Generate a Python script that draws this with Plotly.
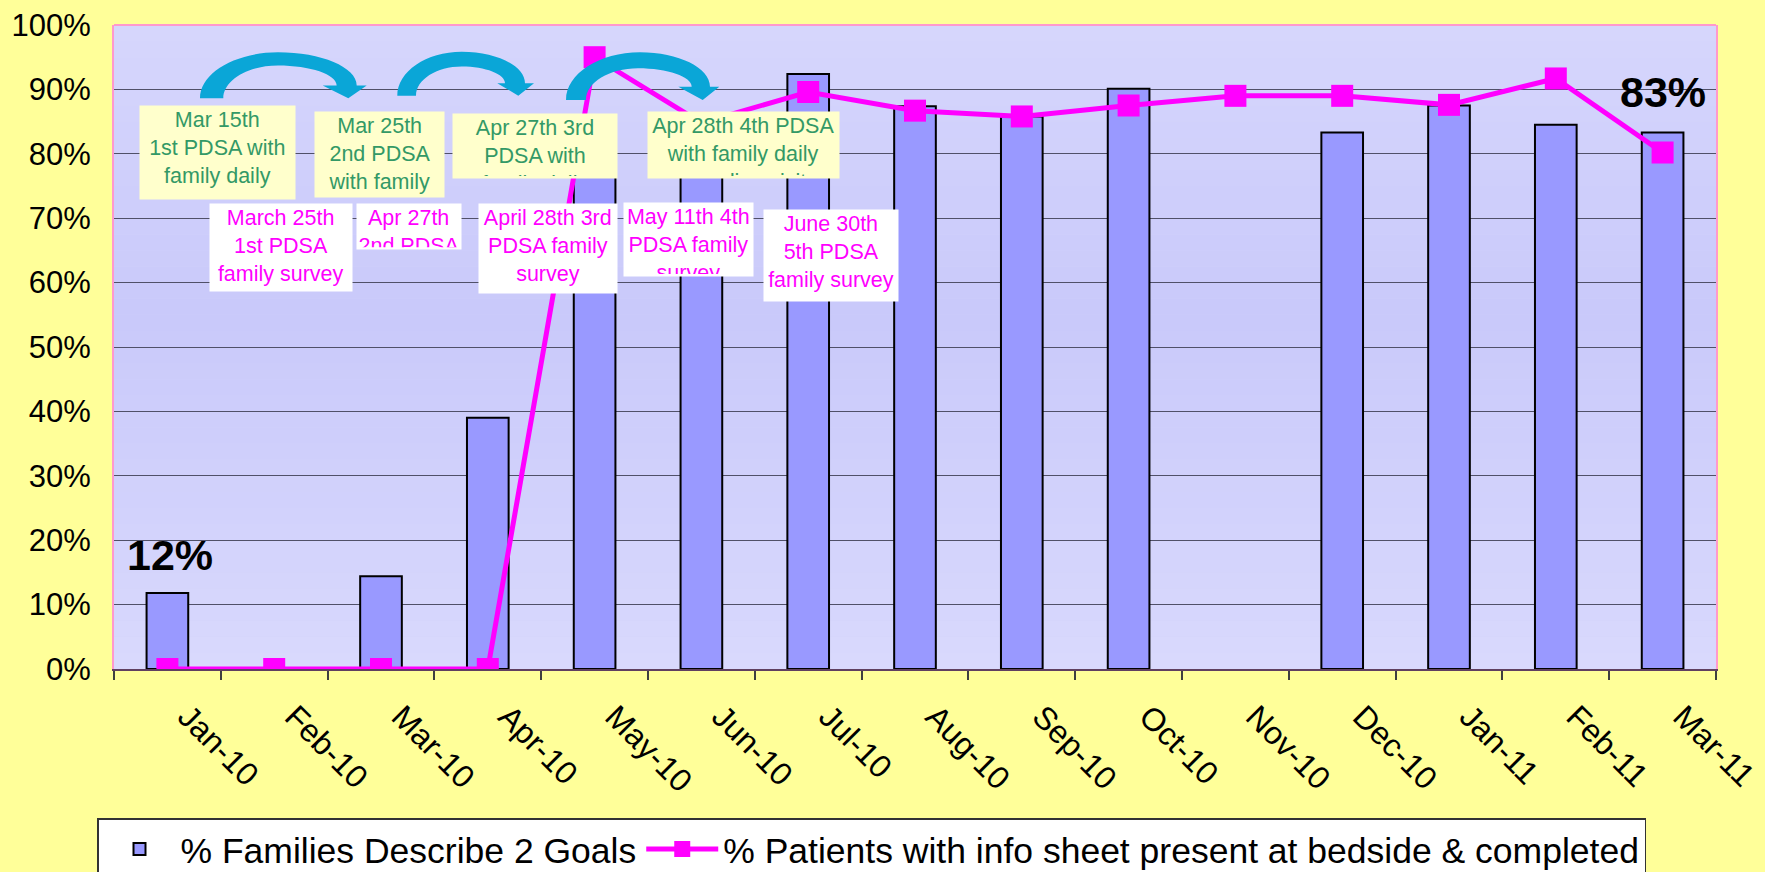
import plotly.graph_objects as go

# ---------------- data ----------------
months = ["Jan-10", "Feb-10", "Mar-10", "Apr-10", "May-10", "Jun-10", "Jul-10", "Aug-10",
          "Sep-10", "Oct-10", "Nov-10", "Dec-10", "Jan-11", "Feb-11", "Mar-11"]
families_pct = [11.8, None, 14.4, 39.0, 83.4, 84.0, 92.4, 87.4, 85.8, 90.1, None, 83.3, 87.5, 84.5, 83.3]
patients_pct = [0, 0, 0, 0, 95.0, 84.8, 89.6, 86.7, 85.8, 87.5, 89.0, 89.0, 87.6, 91.7, 80.2]
series_names = ["% Families Describe 2 Goals",
                "% Patients with info sheet present at bedside & completed"]
callout_labels = [("Jan-10", "12%"), ("Mar-11", "83%")]

green_notes = ["Mar 15th<br>1st PDSA with<br>family daily",
               "Mar 25th<br>2nd PDSA<br>with family",
               "Apr 27th 3rd<br>PDSA with<br>family daily",
               "Apr 28th 4th PDSA<br>with family daily<br>rounding visit"]
pink_notes = ["March 25th<br>1st PDSA<br>family survey",
              "Apr 27th<br>2nd PDSA<br>family survey",
              "April 28th 3rd<br>PDSA family<br>survey",
              "May 11th 4th<br>PDSA family<br>survey",
              "June 30th<br>5th PDSA<br>family survey"]

# ---------------- geometry helpers (layout decoration only) ----------------
W, H = 1765, 872
PL, PR, PT, PB = 114, 1716, 25, 669


def px2x(px):
    return (px - PL) / (PR - PL)


def px2y(py):
    return (PB - py) / (PB - PT)


fig = go.Figure()
fig.add_bar(x=months, y=families_pct, name=series_names[0], width=0.39,
            marker=dict(color="#9999FF", line=dict(color="black", width=2)))
fig.add_scatter(x=months, y=patients_pct, name=series_names[1], mode="lines+markers",
                line=dict(color="#FF00FF", width=5),
                marker=dict(symbol="square", size=22, color="#FF00FF"))

shapes = []
# subtle vertical gradient of the plot area
N = 40
top_c = (217, 217, 253)
mid_c = (201, 201, 250)
for i in range(N):
    t = (i + 0.5) / N
    d = max(0.0, 1 - abs(t - 0.55) / 0.55)
    c = tuple(round(top_c[k] + (mid_c[k] - top_c[k]) * d) for k in range(3))
    shapes.append(dict(type="rect", xref="paper", yref="paper", x0=0, x1=1,
                       y0=i / N, y1=(i + 1) / N, line=dict(width=0),
                       fillcolor="rgb(%d,%d,%d)" % c, layer="below"))
# pink top border
shapes.append(dict(type="line", xref="paper", yref="paper", x0=0, x1=1, y0=1, y1=1,
                   line=dict(color="#FF99CC", width=2), layer="above"))

# curved arrows
arrows = [
    dict(xo=200, xi=223.3, yb=98.3, xt=278, yto=52.3, xti=278, yti=65.5,
         xro=356.7, xri=336.7, yr=85.5, hl=322.7, hr=366.7, tx=348.3, ty=98.3),
    dict(xo=397.3, xi=416, yb=95.7, xt=461.7, yto=51.7, xti=461.7, yti=66.5,
         xro=525, xri=505, yr=83.3, hl=497.3, hr=534, tx=518.3, ty=95.7),
    dict(xo=566, xi=586, yb=100, xt=640, yto=52.3, xti=638, yti=68.3,
         xro=710, xri=691.7, yr=86.7, hl=678.3, hr=719.3, tx=702.7, ty=100),
]
k = 0.55


def P(x, y):
    return "%.5f,%.5f" % (px2x(x), px2y(y))


for a in arrows:
    p = "M" + P(a["xo"], a["yb"])
    p += " C" + P(a["xo"], a["yb"] - (a["yb"] - a["yto"]) * k) + " " + \
         P(a["xt"] - (a["xt"] - a["xo"]) * k, a["yto"]) + " " + P(a["xt"], a["yto"])
    p += " C" + P(a["xt"] + (a["xro"] - a["xt"]) * k, a["yto"]) + " " + \
         P(a["xro"], a["yr"] - (a["yr"] - a["yto"]) * k) + " " + P(a["xro"], a["yr"])
    p += " L" + P(a["hr"], a["yr"]) + " L" + P(a["tx"], a["ty"]) + " L" + P(a["hl"], a["yr"])
    p += " L" + P(a["xri"], a["yr"])
    p += " C" + P(a["xri"], a["yr"] - (a["yr"] - a["yti"]) * k) + " " + \
         P(a["xti"] + (a["xri"] - a["xti"]) * k, a["yti"]) + " " + P(a["xti"], a["yti"])
    p += " C" + P(a["xti"] - (a["xti"] - a["xi"]) * k, a["yti"]) + " " + \
         P(a["xi"], a["yb"] - (a["yb"] - a["yti"]) * k) + " " + P(a["xi"], a["yb"])
    p += " Z"
    shapes.append(dict(type="path", xref="paper", yref="paper", path=p,
                       fillcolor="#0AA6D7", line=dict(width=0), layer="above"))

annotations = []
green_boxes = [(139, 105, 293.5, 197.7), (314, 111, 443, 195.7),
               (452, 113, 616, 177), (647, 111, 837.6, 177)]
pink_boxes = [(209, 203, 350.5, 289.7), (356, 203, 459.6, 248.3),
              (478, 203, 615.6, 291.7), (623, 202, 751.5, 275), (763, 209, 897, 299.7)]
pad = 2
for txt, (x0, y0, x1, y1) in zip(green_notes, green_boxes):
    annotations.append(dict(text=txt, xref="paper", yref="paper", x=px2x(x0), y=px2y(y0),
                            xanchor="left", yanchor="top", showarrow=False, align="center",
                            valign="top", width=x1 - x0 - 2 * pad, height=y1 - y0 - 2 * pad,
                            borderpad=pad, bgcolor="#FFFFCC",
                            font=dict(size=21.5, color="#339966")))
for txt, (x0, y0, x1, y1) in zip(pink_notes, pink_boxes):
    annotations.append(dict(text=txt, xref="paper", yref="paper", x=px2x(x0), y=px2y(y0),
                            xanchor="left", yanchor="top", showarrow=False, align="center",
                            valign="top", width=x1 - x0 - 2 * pad, height=y1 - y0 - 2 * pad,
                            borderpad=pad, bgcolor="#FFFFFF",
                            font=dict(size=21.5, color="#FF00FF")))
for (m, lab), ys in zip(callout_labels, [12, 15]):
    annotations.append(dict(text="<b>%s</b>" % lab, x=m, y=families_pct[months.index(m)],
                            xref="x", yref="y", xanchor="center", yanchor="bottom",
                            yshift=ys, xshift=3 if m == "Jan-10" else 0, showarrow=False,
                            font=dict(size=43, color="black")))

fig.update_layout(
    width=W, height=H,
    margin=dict(l=PL, r=W - PR, t=PT, b=H - PB, autoexpand=False),
    paper_bgcolor="#FFFF99", plot_bgcolor="#D2D2FB",
    font=dict(family="Liberation Sans, Arial, sans-serif", color="black"),
    showlegend=True,
    legend=dict(orientation="h", x=px2x(97), y=px2y(818), xanchor="left", yanchor="top",
                bgcolor="white", bordercolor="#333333", borderwidth=1.5,
                font=dict(size=35.5), itemwidth=72, tracegroupgap=0),
    shapes=shapes, annotations=annotations,
    xaxis=dict(type="category", range=[-0.5, len(months) - 0.5], tickangle=45,
               tickfont=dict(size=32), ticks="outside", tickson="boundaries", ticklen=9,
               tickcolor="#404040", tickwidth=1.5, showgrid=False, showline=True,
               linecolor="#604060", linewidth=2, ticklabelstandoff=14, ticklabelshift=20,
               automargin=False),
    yaxis=dict(range=[0, 100], dtick=10, ticksuffix="%", tickfont=dict(size=31),
               showgrid=True, gridcolor="#505068", gridwidth=1, showline=True,
               linecolor="#FF99CC", linewidth=2, mirror=True, zeroline=False,
               ticks="", ticklabelstandoff=15, automargin=False),
)

fig.write_html("out.html", post_script="document.body.style.margin='0px';")
